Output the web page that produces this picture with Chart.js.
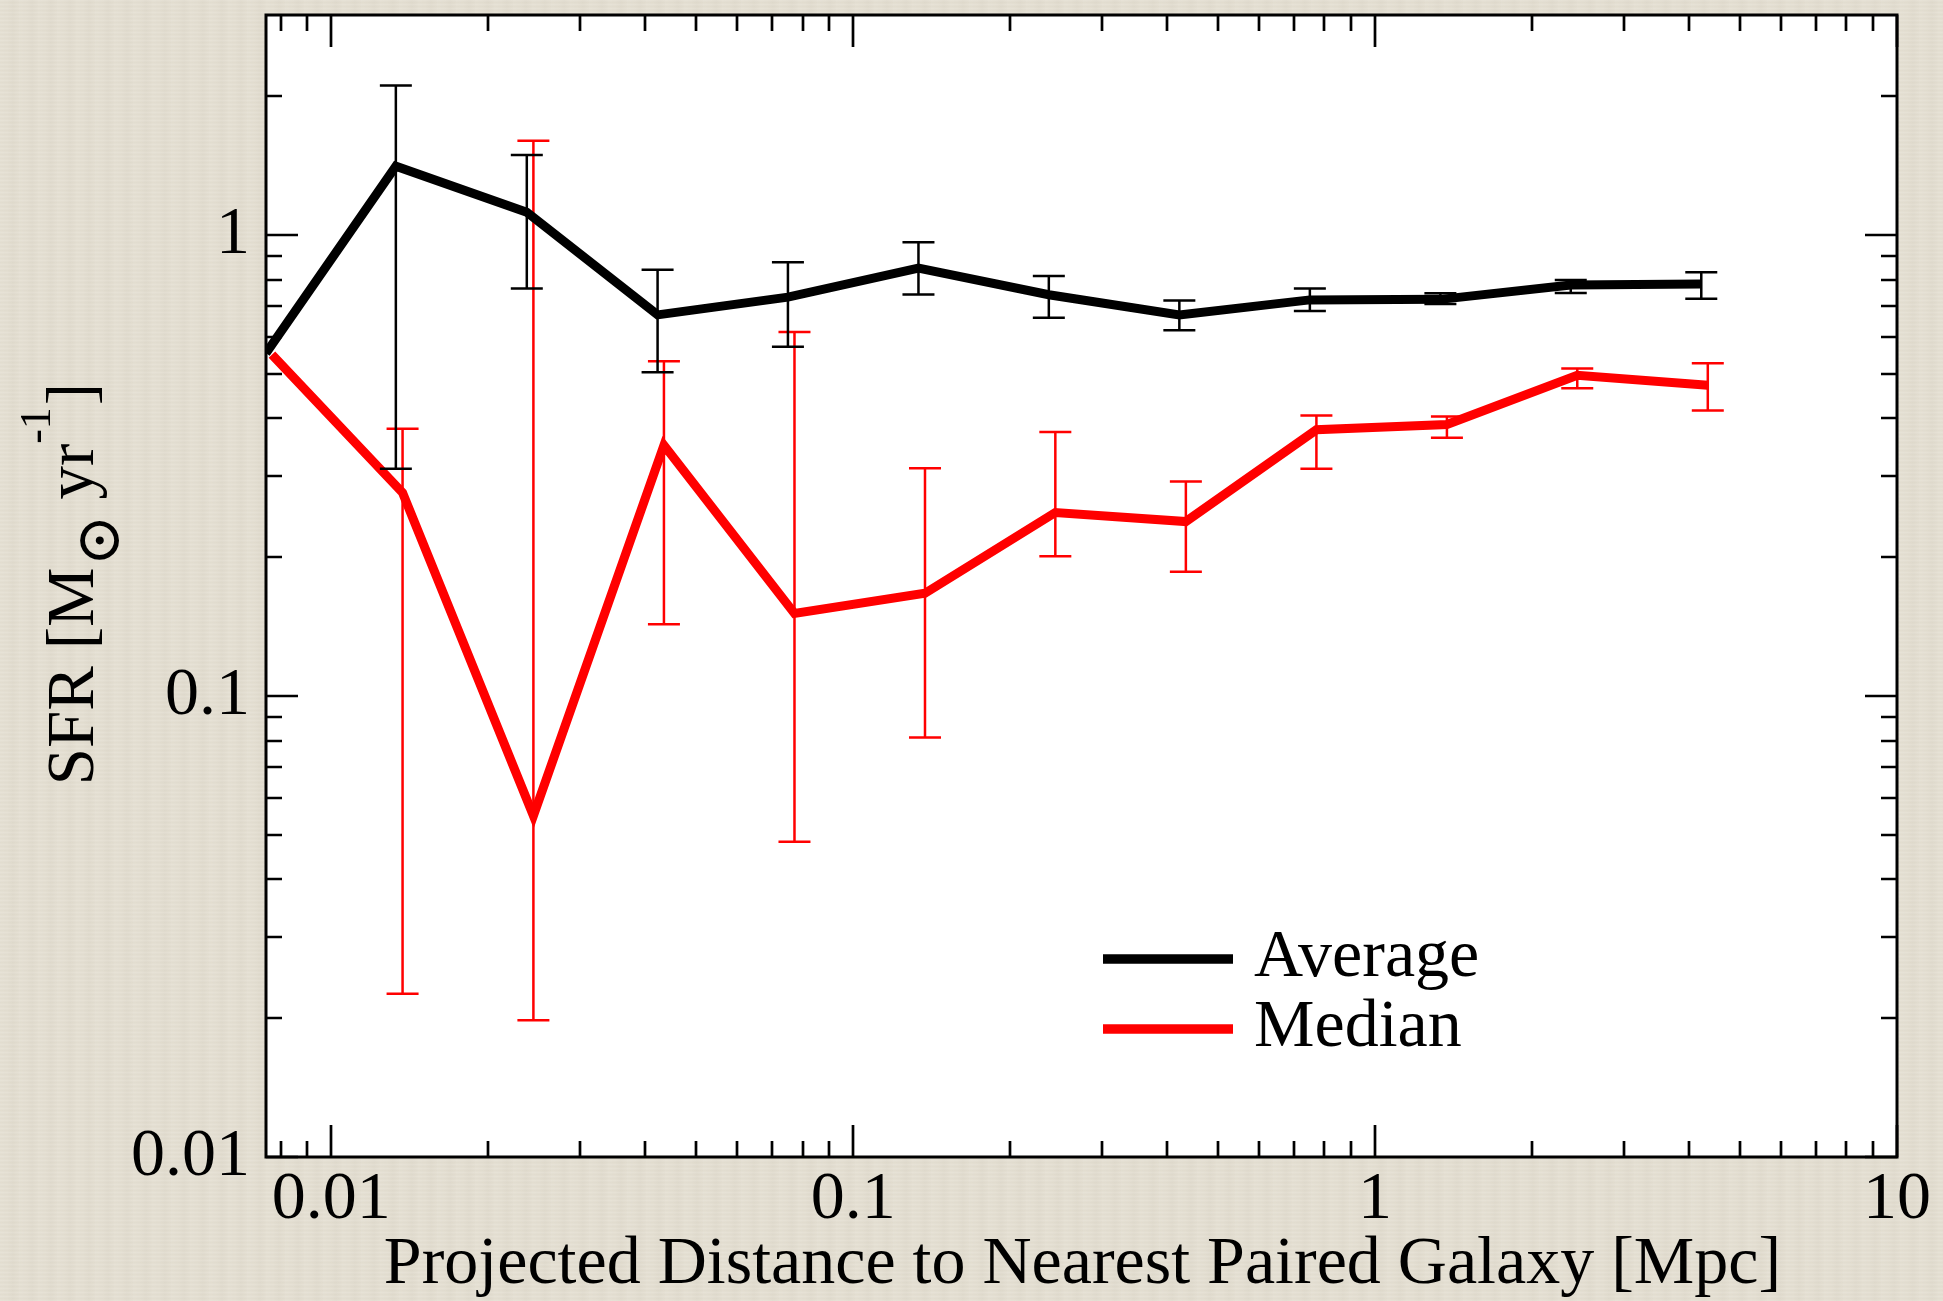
<!DOCTYPE html>
<html>
<head>
<meta charset="utf-8">
<script src="https://cdn.jsdelivr.net/npm/chart.js@4.4.0/dist/chart.umd.min.js"></script>
<style>
  html, body { margin: 0; padding: 0; }
  body {
    width: 1943px; height: 1301px; overflow: hidden;
    background-color: #e4dfd2;
    background-image:
      repeating-linear-gradient(180deg, rgba(255,255,255,0.07) 0px, rgba(255,255,255,0.07) 1px, rgba(120,110,90,0.035) 2px, rgba(0,0,0,0) 4px),
      repeating-linear-gradient(90deg, rgba(255,255,255,0.04) 0px, rgba(0,0,0,0) 7px, rgba(120,110,90,0.03) 13px, rgba(0,0,0,0) 19px);
  }
  #wrap { position: relative; width: 1943px; height: 1301px; }
</style>
</head>
<body>
<div id="wrap"><canvas id="sfr" width="1943" height="1301"></canvas></div>
<script>
// Projected distance to the nearest paired galaxy [Mpc] for each bin.
// The median series is plotted with a small offset in x so the error bars do not overlap.
const avgDist = [0.0075, 0.0133, 0.0237, 0.0422, 0.0750, 0.1334, 0.2371, 0.4217, 0.750, 1.334, 2.371, 4.217];
const medDist = [0.0077, 0.0137, 0.0244, 0.0434, 0.0772, 0.1373, 0.2440, 0.4340, 0.772, 1.373, 2.440, 4.340];

// Average SFR [Msun/yr] with lower / upper error-bar ends
const avgSFR  = [0.554, 1.41, 1.12, 0.671, 0.733, 0.847, 0.742, 0.671, 0.723, 0.725, 0.779, 0.783];
const avgLow  = [null, 0.311, 0.765, 0.504, 0.572, 0.743, 0.661, 0.621, 0.684, 0.708, 0.748, 0.727];
const avgHigh = [null, 2.11, 1.49, 0.841, 0.873, 0.964, 0.815, 0.721, 0.765, 0.747, 0.799, 0.830];

// Median SFR [Msun/yr] with lower / upper error-bar ends
const medSFR  = [0.55, 0.276, 0.055, 0.35, 0.151, 0.167, 0.250, 0.239, 0.378, 0.388, 0.496, 0.472];
const medLow  = [null, 0.0226, 0.0198, 0.143, 0.0483, 0.0813, 0.201, 0.186, 0.311, 0.363, 0.465, 0.416];
const medHigh = [null, 0.380, 1.60, 0.532, 0.616, 0.312, 0.374, 0.292, 0.406, 0.404, 0.513, 0.527];

// Labelled (major) tick values
const xMajorTicks = [0.01, 0.1, 1, 10];
const yMajorTicks = [0.01, 0.1, 1];

const X_MIN = 0.0075, X_MAX = 10;
const Y_MIN = 0.01, Y_MAX = 3;

const FONT = '"Liberation Serif", "Times New Roman", "DejaVu Serif", serif';
const FONT_SIZE = 68;

function minorTicks(lo, hi) {
  const out = [];
  for (let e = -4; e <= 2; e++) {
    const d = Math.pow(10, e);
    for (let m = 2; m <= 9; m++) {
      const v = +(m * d).toPrecision(6);
      if (v > lo * 1.0001 && v < hi * 0.9999) out.push(v);
    }
  }
  return out;
}

const toPoints = (xs, ys) => xs.map((x, i) => ({ x: x, y: ys[i] }));

// White plotting area on the textured page
const areaFill = {
  id: 'areaFill',
  beforeDraw(chart) {
    const { ctx, chartArea: a } = chart;
    ctx.save();
    ctx.fillStyle = '#ffffff';
    ctx.fillRect(a.left, a.top, a.right - a.left, a.bottom - a.top);
    ctx.restore();
  }
};

// Vertical error bars with caps, drawn right after their own line
const errorBars = {
  id: 'errorBars',
  afterDatasetDraw(chart, args) {
    const ds = chart.data.datasets[args.index];
    if (!ds.errLow) return;
    const xs = chart.scales.x, ys = chart.scales.y, ctx = chart.ctx;
    ctx.save();
    ctx.strokeStyle = ds.borderColor;
    ctx.lineWidth = 2.5;
    ctx.lineCap = 'butt';
    const cap = 16;
    ds.data.forEach((p, i) => {
      const lo = ds.errLow[i], hi = ds.errHigh[i];
      if (lo == null || hi == null) return;
      const px = xs.getPixelForValue(p.x);
      const yl = ys.getPixelForValue(lo);
      const yh = ys.getPixelForValue(hi);
      ctx.beginPath();
      ctx.moveTo(px, yl); ctx.lineTo(px, yh);
      ctx.moveTo(px - cap, yl); ctx.lineTo(px + cap, yl);
      ctx.moveTo(px - cap, yh); ctx.lineTo(px + cap, yh);
      ctx.stroke();
    });
    ctx.restore();
  }
};

// Box frame with inward ticks on all four sides, axis titles and legend
const frameAndText = {
  id: 'frameAndText',
  afterDraw(chart) {
    const { ctx, chartArea: a } = chart;
    const xs = chart.scales.x, ys = chart.scales.y;
    ctx.save();
    ctx.strokeStyle = '#000';
    ctx.lineWidth = 2.7;
    ctx.lineCap = 'butt';
    const MAJ = 32, MIN = 16;
    const xt = xMajorTicks.map(v => [v, MAJ]).concat(minorTicks(X_MIN, X_MAX).map(v => [v, MIN]));
    xt.forEach(([v, len]) => {
      if (v < X_MIN || v > X_MAX) return;
      const px = Math.round(xs.getPixelForValue(v));
      ctx.beginPath();
      ctx.moveTo(px, a.bottom); ctx.lineTo(px, a.bottom - len);
      ctx.moveTo(px, a.top); ctx.lineTo(px, a.top + len);
      ctx.stroke();
    });
    const yt = yMajorTicks.map(v => [v, MAJ]).concat(minorTicks(Y_MIN, Y_MAX).map(v => [v, MIN]));
    yt.forEach(([v, len]) => {
      if (v < Y_MIN || v > Y_MAX) return;
      const py = Math.round(ys.getPixelForValue(v));
      ctx.beginPath();
      ctx.moveTo(a.left, py); ctx.lineTo(a.left + len, py);
      ctx.moveTo(a.right, py); ctx.lineTo(a.right - len, py);
      ctx.stroke();
    });
    ctx.lineWidth = 3;
    ctx.strokeRect(a.left, a.top, a.right - a.left, a.bottom - a.top);

    // x-axis title
    ctx.fillStyle = '#000';
    ctx.font = FONT_SIZE + 'px ' + FONT;
    ctx.textAlign = 'center';
    ctx.textBaseline = 'alphabetic';
    ctx.fillText('Projected Distance to Nearest Paired Galaxy [Mpc]', (a.left + a.right) / 2 + 1, a.bottom + 126);

    // y-axis title with subscript and superscript, reading bottom to top
    const main = '67px ' + FONT;
    const sub = '62px ' + FONT;
    const sup = '44px ' + FONT;
    const parts = [
      { t: 'SFR [M', f: main, dy: 0, gap: 1 },
      { t: '\u2299', f: sub, dy: 26, gap: -2 },
      { t: ' yr', f: main, dy: 0, gap: 0 },
      { t: '-1', f: sup, dy: -43, gap: 2 },
      { t: ']', f: main, dy: 0, gap: 0 }
    ];
    let total = 0;
    parts.forEach(p => { ctx.font = p.f; p.w = ctx.measureText(p.t).width; total += p.w + p.gap; });
    ctx.translate(93, (a.top + a.bottom) / 2 - 2 + total / 2);
    ctx.rotate(-Math.PI / 2);
    ctx.textAlign = 'left';
    let cx = 0;
    parts.forEach(p => { ctx.font = p.f; ctx.fillText(p.t, cx, p.dy); cx += p.w + p.gap; });
    ctx.restore();

    // legend in the lower part of the plotting area
    ctx.save();
    const lx0 = a.left + 837, lx1 = a.left + 967, tx = a.left + 988;
    const rows = [a.bottom - 198, a.bottom - 128];
    chart.data.datasets.forEach((ds, i) => {
      const y = rows[i];
      ctx.strokeStyle = ds.borderColor;
      ctx.lineWidth = 9.5;
      ctx.beginPath(); ctx.moveTo(lx0, y); ctx.lineTo(lx1, y); ctx.stroke();
      ctx.fillStyle = '#000';
      ctx.font = FONT_SIZE + 'px ' + FONT;
      ctx.textAlign = 'left';
      ctx.textBaseline = 'alphabetic';
      ctx.fillText(ds.label, tx, y + 17);
    });
    ctx.restore();
  }
};

new Chart(document.getElementById('sfr'), {
  type: 'scatter',
  data: {
    datasets: [
      {
        label: 'Average',
        data: toPoints(avgDist, avgSFR),
        errLow: avgLow, errHigh: avgHigh,
        showLine: true, borderColor: '#000000', backgroundColor: '#000000',
        borderWidth: 9, pointRadius: 0, pointHoverRadius: 0,
        borderJoinStyle: 'miter', tension: 0, clip: 0
      },
      {
        label: 'Median',
        data: toPoints(medDist, medSFR),
        errLow: medLow, errHigh: medHigh,
        showLine: true, borderColor: '#ff0000', backgroundColor: '#ff0000',
        borderWidth: 9, pointRadius: 0, pointHoverRadius: 0,
        borderJoinStyle: 'miter', tension: 0, clip: 0
      }
    ]
  },
  options: {
    responsive: false,
    animation: false,
    devicePixelRatio: 1,
    layout: { padding: { left: 0, top: 15, right: 46, bottom: 0 } },
    plugins: { legend: { display: false }, tooltip: { enabled: false } },
    scales: {
      x: {
        type: 'logarithmic', min: X_MIN, max: X_MAX,
        grid: { display: false, drawTicks: false },
        border: { display: false },
        afterBuildTicks(scale) { scale.ticks = xMajorTicks.map(v => ({ value: v })); },
        afterFit(scale) { scale.height = 144; scale.paddingLeft = 0; scale.paddingRight = 0; },
        ticks: {
          autoSkip: false, maxRotation: 0, padding: 2, color: '#000',
          font: { family: FONT, size: FONT_SIZE },
          callback: v => String(v)
        }
      },
      y: {
        type: 'logarithmic', min: Y_MIN, max: Y_MAX,
        grid: { display: false, drawTicks: false },
        border: { display: false },
        afterBuildTicks(scale) { scale.ticks = yMajorTicks.map(v => ({ value: v })); },
        afterFit(scale) { scale.width = 266; scale.paddingTop = 0; scale.paddingBottom = 0; },
        ticks: {
          autoSkip: false, padding: 16, color: '#000',
          font: { family: FONT, size: FONT_SIZE },
          callback: v => String(v)
        }
      }
    }
  },
  plugins: [areaFill, errorBars, frameAndText]
});
</script>
</body>
</html>
